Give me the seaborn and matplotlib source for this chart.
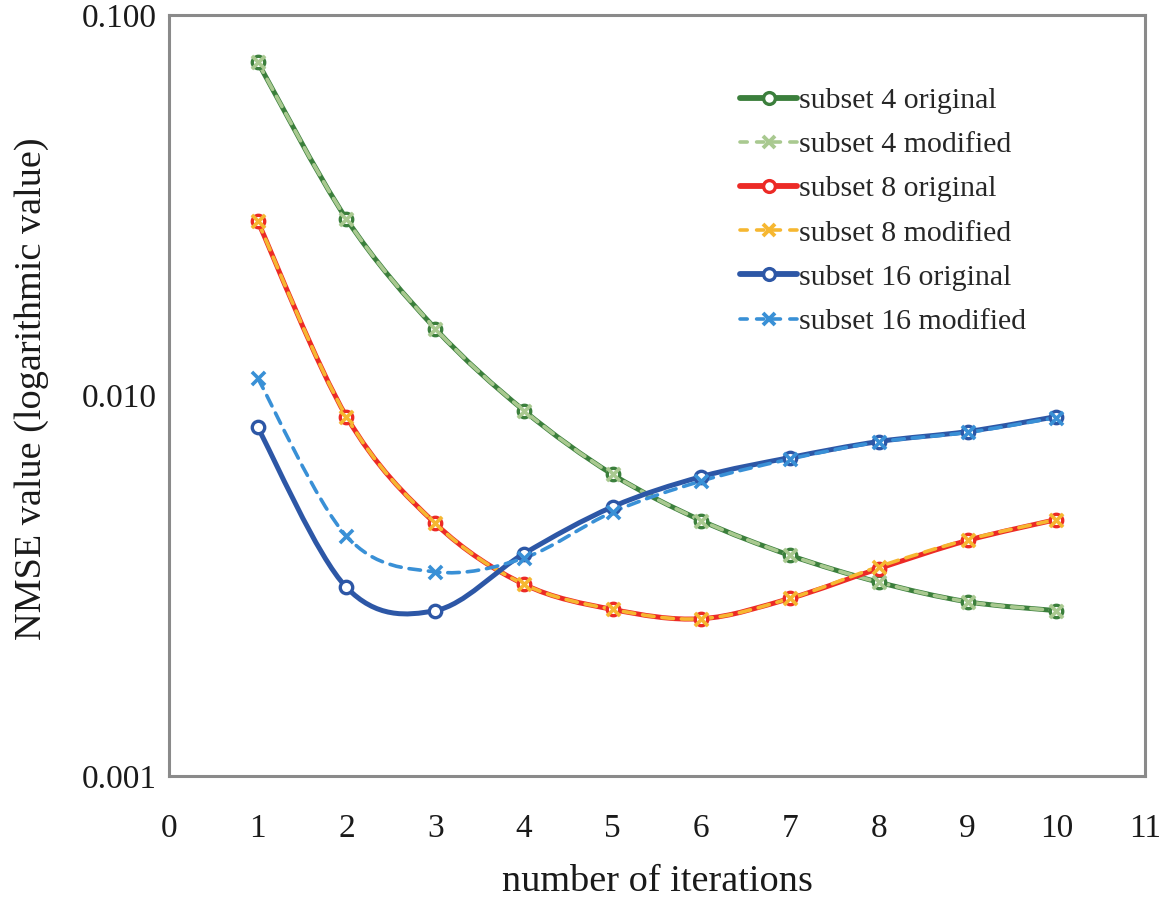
import numpy as np
import pandas as pd
import matplotlib
matplotlib.use("Agg")
import matplotlib.pyplot as plt
import seaborn as sns
from matplotlib.path import Path
from matplotlib.patches import PathPatch
from matplotlib.lines import Line2D
from matplotlib.ticker import FixedLocator, FixedFormatter, NullLocator

# ===== Data =====
iterations = [1, 2, 3, 4, 5, 6, 7, 8, 9, 10]

s4_original = [0.0752, 0.0291, 0.0150, 0.00913, 0.0062, 0.00469, 0.0038, 0.00323, 0.00287, 0.00272]
s4_modified = [0.0752, 0.0291, 0.0150, 0.00913, 0.0062, 0.00469, 0.0038, 0.00323, 0.00287, 0.00272]
s8_original = [0.0287, 0.0088, 0.00461, 0.00319, 0.00274, 0.00259, 0.00293, 0.00351, 0.00416, 0.00472]
s8_modified = [0.0287, 0.0088, 0.00461, 0.00319, 0.00274, 0.00259, 0.00293, 0.00355, 0.00418, 0.00472]
s16_original = [0.00824, 0.00313, 0.00272, 0.00384, 0.0051, 0.00612, 0.00687, 0.00757, 0.00804, 0.0088]
s16_modified = [0.0111, 0.00427, 0.00344, 0.00374, 0.00494, 0.00596, 0.00681, 0.00755, 0.008, 0.00875]

series_names = ["subset 4 original", "subset 4 modified",
                "subset 8 original", "subset 8 modified",
                "subset 16 original", "subset 16 modified"]
series_values = [s4_original, s4_modified, s8_original, s8_modified, s16_original, s16_modified]

x_ticks = list(range(0, 12))
y_ticks = [0.001, 0.01, 0.1]
y_tick_labels = ["0.001", "0.010", "0.100"]

# ===== Styles =====
colors = ["#3b7f3c", "#a9c990", "#ec2a26", "#f6b731", "#2d57a6", "#3990d6"]
dashed = [False, True, False, True, False, True]


def smooth_path(xs, ys):
    # Excel-like smoothed line: Catmull-Rom -> cubic Bezier in (x, log y)
    lx = np.asarray(xs, float)
    ly = np.log10(np.asarray(ys, float))
    pts = np.column_stack([lx, ly])
    n = len(pts)
    verts = [pts[0]]
    codes = [Path.MOVETO]
    for i in range(n - 1):
        p0 = pts[i - 1] if i > 0 else pts[i]
        p1 = pts[i]
        p2 = pts[i + 1]
        p3 = pts[i + 2] if i + 2 < n else pts[i + 1]
        c1 = p1 + (p2 - p0) / 6.0
        c2 = p2 - (p3 - p1) / 6.0
        verts += [c1, c2, p2]
        codes += [Path.CURVE4] * 3
    verts = np.array(verts)
    verts[:, 1] = 10 ** verts[:, 1]
    return Path(verts, codes)


sns.set_style("white")
plt.rcParams["font.family"] = ["Liberation Serif", "DejaVu Serif"]

fig = plt.figure(figsize=(11.69, 9.0), dpi=100)
ax = fig.add_axes([0.1446, 0.1378, 0.8349, 0.8455])
ax.set_yscale("log")

handles = []
for name, vals, col, dsh in zip(series_names, series_values, colors, dashed):
    lw = 2.6 if dsh else 3.6
    ls = (0, (3.2, 2.2)) if dsh else "-"
    patch = PathPatch(smooth_path(iterations, vals), facecolor="none", edgecolor=col,
                      lw=lw, linestyle=ls, capstyle="round", joinstyle="round")
    ax.add_patch(patch)
    df = pd.DataFrame({"x": iterations, "y": vals})
    if dsh:
        sns.scatterplot(data=df, x="x", y="y", ax=ax, marker="x", s=90, color=col,
                        linewidth=2.6, zorder=4)
        h = Line2D([], [], color=col, lw=lw, linestyle=(0, (2.0, 2.6)), marker="x",
                   markersize=9, markeredgewidth=2.8, dash_capstyle="round")
    else:
        sns.scatterplot(data=df, x="x", y="y", ax=ax, marker="o", s=80, facecolor="white",
                        edgecolor=col, linewidth=2.4, zorder=3)
        h = Line2D([], [], color=col, lw=lw + 0.6, marker="o", markersize=8.5,
                   markerfacecolor="white", markeredgecolor=col, markeredgewidth=2.4,
                   solid_capstyle="round")
    handles.append(h)

ax.set_xlim(0, 11)
ax.set_ylim(0.001, 0.1)
ax.xaxis.set_major_locator(FixedLocator(x_ticks))
ax.yaxis.set_major_locator(FixedLocator(y_ticks))
ax.yaxis.set_major_formatter(FixedFormatter(y_tick_labels))
ax.yaxis.set_minor_locator(NullLocator())

for sp in ax.spines.values():
    sp.set_color("#8a8a8a")
    sp.set_linewidth(2.2)

ax.tick_params(axis="x", direction="in", length=8, width=2, color="#8a8a8a",
               labelsize=24, pad=27, labelcolor="#1a1a1a")
ax.tick_params(axis="y", direction="in", length=0, labelsize=24, pad=9, labelcolor="#1a1a1a")

ax.set_xlabel("number of iterations", fontsize=27.5, labelpad=15, color="#1a1a1a")
ax.set_ylabel("NMSE value (logarithmic value)", fontsize=27.5, color="#1a1a1a")
ax.yaxis.set_label_coords(-0.123, 0.509)

ax.legend(handles=handles, labels=series_names, loc="upper left",
          bbox_to_anchor=(0.573, 0.921), frameon=False, fontsize=21.5,
          handlelength=1.9, handletextpad=0.08, labelspacing=0.58, borderaxespad=0)

fig.savefig("out.png", dpi=100)
